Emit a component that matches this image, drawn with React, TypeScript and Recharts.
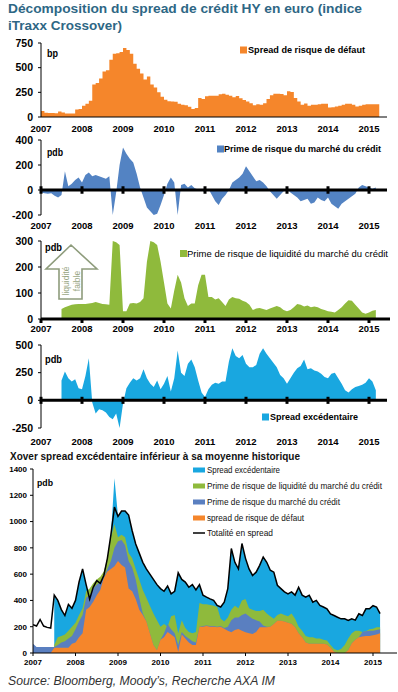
import React from "react";
import {
  AreaChart,
  Area,
  ComposedChart,
  Line,
  XAxis,
  YAxis,
  ReferenceLine,
} from "recharts";

const FONT = "'Liberation Sans', Arial, Helvetica, sans-serif";

const ORANGE = "#f5862b";
const BLUE = "#5383c3";
const GREEN = "#8fba3c";
const CYAN = "#19a7e0";
const TITLE = "#2e6785";

// axe du temps : un point par mois, janv. 2007 -> mars 2015
const months = Array.from({ length: 99 }, (_, i) => 2007 + i / 12);
const years = [2007, 2008, 2009, 2010, 2011, 2012, 2013, 2014, 2015];

// 1) spread de risque de défaut (bp)
const defaultSpread = [
  60, 42, 40, 40, 38, 55, 45, 35, 35, 35, 75, 80,
  115, 135, 165, 330, 345, 390, 460, 475, 580, 640, 645, 660,
  700, 680, 640, 540, 490, 440, 380, 410, 330, 300, 250, 205,
  175, 160, 158, 155, 135, 125, 120, 105, 82, 90, 192, 182,
  210, 215, 215, 215, 230, 236, 226, 215, 200, 212, 190, 172,
  158, 140, 118, 130, 125, 140, 182, 220, 236, 235, 233, 220,
  262, 253, 192, 158, 123, 137, 113, 123, 125, 130, 134, 135,
  96, 100, 106, 115, 123, 134, 134, 123, 106, 115, 123, 130,
  130, 130, 130,
];

// 2) prime de risque du marché du crédit (pdb)
const marketPremium = [
  -20, -25, -30, -25, -45, -60, -40, 150, 30, 50, 80, 100,
  60, 120, 140, 110, 120, 110, 100, 90, 110, -200, -20, 200,
  340, 290, 250, 220, 130, 20, -60, -140, -170, -200, -190, -120,
  -40, 50, 100, 60, -200, 40, 50, 20, 40, 15, 5, 0,
  -20, 10, -40, -90, -120, -70, -40, 0, 60, 80, 100, 130,
  190, 150, 110, 70, 80, 60, 30, -10, -40, -70, -40, -10,
  10, -20, -40, -60, -90, -80, -70, -110, -100, -60, -80, -90,
  -60, -110, -130, -150, -110, -90, -70, -50, -30, 20, 40, 30,
  20, 10, 20,
];

// 3) prime de risque de liquidité (pdb)
const liquidityPremium = [
  null, null, null, null, null, null, 38, 45, 50, 55, 57, 58,
  58, 58, 60, 62, 65, 62, 58, 57, 55, 300, 295, 285,
  30, 30, 60, 62, 60, 65, 80, 220, 300, 295, 285, 220,
  140, 60, 40, 110, 170, 140, 80, 50, 60, 60, 130, 170,
  170, 85, 85, 75, 80, 65, 50, 75, 85, 80, 78, 70,
  65, 55, 35, 40, 42, 38, 35, 40, 45, 50, 45, 35,
  30, 35, 45, 58, 55, 48, 52, 45, 48, 45, 38, 35,
  30, 28, 25, 35, 45, 60, 72, 70, 55, 40, 25, 20,
  25, 32, 35,
];

// 4) spread excédentaire (pdb)
const excessSpread = [
  null, null, null, null, null, null, 180, 260, 200, 170, 190, 110,
  100, 220, 380, -20, -120, -80, -90, -110, -150, -170, -120, -250,
  -30, 110, 160, 200, 180, 200, 280, 200, 150, 120, 180, 100,
  150, 220, 80, 200, 450, 250, 220, 330, 370, 300, 180, 70,
  30, 100, 140, 160, 150, 170, 170, 350, 470, 400, 380, 410,
  330, 300, 300, 320, 420, 470, 420, 380, 340, 300, 230, 200,
  150, 200, 250, 290, 310, 370, 280, 290, 270, 260, 240, 210,
  200, 240, 250, 200, 150, 90, 70, 100, 120, 130, 140, 160,
  200, 170, 90,
];

// 5) décomposition cumulée : niveau haut de chaque couche (pdb)
const defaultTop = [
  0, 0, 0, 0, 0, 0, 40, 40, 40, 40, 40, 70,
  80, 120, 150, 330, 350, 390, 440, 480, 570, 620, 640, 660,
  700, 670, 650, 490, 470, 410, 330, 290, 240, 150, 60, 20,
  100, 120, 160, 140, 120, 10, 140, 110, 80, 60, 60, 200,
  200, 205, 200, 200, 195, 200, 185, 170, 158, 175, 183, 170,
  158, 150, 145, 160, 195, 195, 195, 200, 220, 245, 245, 240,
  230, 222, 195, 150, 120, 80, 70, 70, 70, 70, 70, 65,
  40, 10, 0, 0, 0, 20, 75, 100, 120, 125, 130, 130,
  135, 140, 150,
];
const marketTop = [
  70, 45, 45, 45, 45, 45, 45, 60, 80, 90, 110, 130,
  180, 240, 290, 420, 440, 490, 520, 540, 580, 640, 700, 800,
  850, 860, 820, 700, 650, 560, 420, 300, 240, 150, 60, 20,
  100, 150, 220, 180, 150, 60, 160, 130, 110, 90, 80, 200,
  205, 210, 205, 205, 200, 205, 190, 200, 250, 270, 270, 290,
  300, 280, 260, 250, 240, 210, 200, 200, 220, 245, 245, 240,
  230, 222, 195, 150, 120, 80, 70, 70, 70, 70, 70, 65,
  40, 10, 0, 0, 0, 20, 75, 100, 120, 160, 165, 170,
  170, 175, 180,
];
const liquidityTop = [
  null, null, null, null, null, null, 60, 120, 130, 140, 170, 200,
  230, 290, 340, 470, 490, 530, 560, 580, 620, 720, 880, 980,
  880, 900, 880, 760, 720, 640, 560, 480, 420, 360, 300, 250,
  200, 220, 200, 280, 290, 150, 250, 190, 160, 150, 160, 380,
  370, 370, 365, 360, 350, 260, 240, 270, 330, 360, 340, 400,
  410, 340, 330, 320, 320, 330, 300, 280, 260, 290, 300, 290,
  280, 300, 260, 200, 170, 130, 120, 120, 110, 110, 100, 95,
  60, 30, 20, 30, 60, 110, 150, 170, 170, 160, 165, 180,
  185, 195, 195,
];
const excessTop = [
  null, null, null, null, null, null, 440, 400, 330, 285, 370, 340,
  400, 540, 640, 520, 410, 500, 550, 530, 590, 720, 900, 1330,
  1040, 1080, 1080, 1050, 930, 830, 760, 690, 640, 600, 560, 520,
  490, 470, 510, 450, 470, 610, 560, 540, 500, 520, 480, 520,
  440, 425, 412, 400, 362, 350, 387, 490, 795, 690, 640, 833,
  720, 640, 590, 615, 667, 730, 690, 630, 615, 515, 490, 465,
  450, 465, 440, 500, 440, 425, 440, 387, 400, 362, 350, 336,
  298, 285, 272, 260, 260, 247, 260, 250, 298, 285, 336, 336,
  360, 350, 300,
];
const totalSpread = [
  215, 205, 255, 205, 195, 190, 440, 400, 330, 285, 370, 340,
  400, 540, 640, 520, 410, 500, 550, 530, 590, 720, 900, 1110,
  1040, 1080, 1080, 1050, 930, 830, 760, 690, 640, 600, 560, 520,
  490, 470, 510, 450, 470, 610, 560, 540, 500, 520, 480, 520,
  440, 425, 412, 400, 362, 350, 387, 490, 795, 690, 640, 833,
  720, 640, 590, 615, 667, 730, 690, 630, 615, 515, 490, 465,
  450, 465, 440, 500, 440, 425, 440, 387, 400, 362, 350, 336,
  298, 285, 272, 260, 260, 247, 260, 250, 298, 285, 336, 336,
  360, 350, 300,
];

// tables pour recharts
const defaultData = [
  ...months.map((t, i) => ({ t, v: defaultSpread[i] })),
  { t: 2007 + 99 / 12, v: defaultSpread[98] },
];
const marketData = months.map((t, i) => ({ t, v: marketPremium[i] }));
const liquidityData = months.map((t, i) => ({ t, v: liquidityPremium[i] }));
const excessData = months.map((t, i) => ({ t, v: excessSpread[i] }));
const stackData = months.map((t, i) => ({
  t,
  excess: excessTop[i],
  liquidity: liquidityTop[i],
  market: marketTop[i],
  def: defaultTop[i],
  total: totalSpread[i],
}));

const xTick = { fontSize: 9.5, fontWeight: 700, fill: "#000", fontFamily: FONT };
const yTick = { fontSize: 10.5, fontWeight: 700, fill: "#000", fontFamily: FONT };

type PanelProps = {
  top: number;
  plotHeight: number;
  data: { t: number; v: number | null }[];
  color: string;
  domain: [number, number];
  ticks: number[];
  step?: boolean;
  zeroMark?: number; // demi-hauteur des graduations sur la ligne du zéro
  thickAxis?: boolean;
  labelGap: [number, number];
  right?: number;
};

function SeriesPanel(p: PanelProps) {
  return (
    <div style={{ position: "absolute", left: 0, top: p.top }}>
      <AreaChart
        width={398}
        height={p.plotHeight + 25}
        data={p.data}
        margin={{ top: 5, right: p.right ?? 11, left: 0, bottom: 0 }}>
        <XAxis
          type="number"
          dataKey="t"
          domain={[2007, 2007 + (398 - (p.right ?? 11) - 41) / 41]}
          ticks={years}
          interval={0}
          allowDataOverflow
          height={20}
          tick={xTick}
          tickSize={p.labelGap[0]}
          tickMargin={p.labelGap[1]}
          axisLine={
            p.thickAxis
              ? { stroke: "#000", strokeWidth: 3 }
              : p.zeroMark
              ? false
              : { stroke: "#000" }
          }
          tickLine={p.thickAxis ? { stroke: "#000", strokeWidth: 3 } : false}
        />
        <YAxis
          type="number"
          domain={p.domain}
          ticks={p.ticks}
          interval={0}
          allowDataOverflow
          width={41}
          tick={yTick}
          tickSize={3}
          tickMargin={5}
          axisLine={{ stroke: "#000" }}
          tickLine={{ stroke: "#000" }}
        />
        <Area
          dataKey="v"
          type={p.step ? "stepAfter" : "linear"}
          stroke="none"
          fill={p.color}
          fillOpacity={1}
          baseValue={0}
          dot={false}
          activeDot={false}
          isAnimationActive={false}
        />
        {p.zeroMark ? (
          <ReferenceLine y={0} stroke="#000" strokeWidth={3} />
        ) : null}
        {p.zeroMark
          ? years.map((yr) => (
              <ReferenceLine
                key={yr}
                segment={[
                  { x: yr, y: -p.zeroMark! },
                  { x: yr, y: p.zeroMark! },
                ]}
                stroke="#000"
                strokeWidth={3}
              />
            ))
          : null}
      </AreaChart>
    </div>
  );
}

function StackPanel() {
  const tick = { fontSize: 8, fontWeight: 700, fill: "#000", fontFamily: FONT };
  return (
    <div style={{ position: "absolute", left: 0, top: 464 }}>
      <ComposedChart
        width={398}
        height={207}
        data={stackData}
        margin={{ top: 5, right: 1, left: 0, bottom: 0 }}>
        <XAxis
          type="number"
          dataKey="t"
          domain={[2007, 2007 + 364 / 42.5]}
          ticks={years}
          interval={0}
          allowDataOverflow
          height={18}
          tick={tick}
          tickSize={3}
          tickMargin={3}
          axisLine={{ stroke: "#000" }}
          tickLine={{ stroke: "#000" }}
        />
        <YAxis
          type="number"
          domain={[0, 1400]}
          ticks={[0, 200, 400, 600, 800, 1000, 1200, 1400]}
          interval={0}
          width={33}
          tick={tick}
          tickSize={3}
          tickMargin={3}
          axisLine={{ stroke: "#000" }}
          tickLine={{ stroke: "#000" }}
        />
        <Area dataKey="excess" type="linear" stroke="none" fill={CYAN} fillOpacity={1} isAnimationActive={false} />
        <Area dataKey="liquidity" type="linear" stroke="none" fill={GREEN} fillOpacity={1} isAnimationActive={false} />
        <Area dataKey="market" type="linear" stroke="none" fill="#5a7fc0" fillOpacity={1} isAnimationActive={false} />
        <Area dataKey="def" type="linear" stroke="none" fill={ORANGE} fillOpacity={1} isAnimationActive={false} />
        <Line dataKey="total" type="linear" stroke="#000" strokeWidth={1.5} dot={false} activeDot={false} isAnimationActive={false} />
      </ComposedChart>
    </div>
  );
}

// textes, légendes et flèche par-dessus les graphiques
function Overlay() {
  const t = (x: number, y: number, size: number, len: number, text: string, weight = 700, fill = "#000") => (
    <text x={x} y={y} fontSize={size} fontWeight={weight} fill={fill} fontFamily={FONT} textLength={len} lengthAdjust="spacingAndGlyphs">
      {text}
    </text>
  );
  const legend5 = [
    { label: "Spread excédentaire", color: CYAN, len: 73 },
    { label: "Prime de risque de liquidité du marché du crédit", color: GREEN, len: 175 },
    { label: "Prime de risque du marché du crédit", color: "#5a7fc0", len: 133 },
    { label: "spread de risque de défaut", color: ORANGE, len: 97 },
    { label: "Totalité en spread", color: "", len: 66 },
  ];
  const rows = [470, 486, 502, 518, 533];
  return (
    <svg width={398} height={692} style={{ position: "absolute", left: 0, top: 0, pointerEvents: "none" }}>
      {t(8, 13.4, 13.6, 354, "Décomposition du spread de crédit HY en euro (indice", 700, TITLE)}
      {t(8, 30.4, 13.6, 114, "iTraxx Crossover)", 700, TITLE)}

      {t(47, 56.5, 10, 11, "bp")}
      <rect x={240} y={46.5} width={7} height={7} fill={ORANGE} />
      {t(248, 53.3, 9.3, 117, "Spread de risque de défaut")}

      {t(47, 155.5, 10, 16, "pdb")}
      <rect x={217} y={145.5} width={7} height={7} fill={BLUE} />
      {t(224, 152.4, 9.1, 157, "Prime de risque du marché du crédit")}

      <polygon points="71,245 97,269 82,269 82,299 59,299 59,269 46,269" fill="#fff" stroke="#8e9c7c" strokeWidth={1.6} />
      <text x={0} y={0} transform="translate(68.5,281) rotate(-90)" textAnchor="middle" fontSize={8.5} fill="#98a683" fontFamily={FONT}>liquidité</text>
      <text x={0} y={0} transform="translate(79.5,281) rotate(-90)" textAnchor="middle" fontSize={8.5} fill="#98a683" fontFamily={FONT}>faible</text>
      {t(45, 251, 10, 17, "pdb")}
      <rect x={180} y={250} width={7} height={7} fill={GREEN} />
      {t(187, 257, 9.6, 201, "Prime de risque de liquidité du marché du crédit", 400)}

      {t(45, 363, 10, 17, "pdb")}
      <rect x={262} y={413.5} width={7} height={7} fill={CYAN} />
      {t(270, 420.3, 9.3, 88, "Spread excédentaire")}

      {t(10, 459.7, 11, 290, "Xover spread excédentaire inférieur à sa moyenne historique", 700, "#111")}
      {t(37, 485.5, 9.5, 16, "pdb")}
      {legend5.map((l, i) => (
        <g key={l.label}>
          {l.color ? (
            <rect x={193} y={rows[i] - 2.5} width={12} height={5} fill={l.color} />
          ) : (
            <line x1={193} x2={205} y1={rows[i]} y2={rows[i]} stroke="#000" strokeWidth={1.5} />
          )}
          {t(207, rows[i] + 3.1, 8.4, l.len, l.label, 400, "#111")}
        </g>
      ))}

      <text x={8} y={685} fontSize={12.5} fontStyle="italic" fill="#333" fontFamily={FONT} textLength={267} lengthAdjust="spacingAndGlyphs">
        Source: Bloomberg, Moody’s, Recherche AXA IM
      </text>
    </svg>
  );
}

export default function App() {
  return (
    <div style={{ position: "absolute", left: 0, top: 0, width: 398, height: 692, background: "#fff", fontFamily: FONT }}>
      <SeriesPanel top={38} plotHeight={74} data={defaultData} color={ORANGE} domain={[0, 750]} ticks={[0, 250, 500, 750]} step labelGap={[6, 2]} />
      <SeriesPanel top={135} plotHeight={75} data={marketData} color={BLUE} domain={[-200, 400]} ticks={[-200, 0, 200, 400]} zeroMark={30} labelGap={[6, 1]} />
      <SeriesPanel top={236} plotHeight={78} data={liquidityData} color={GREEN} domain={[0, 300]} ticks={[0, 100, 200, 300]} thickAxis labelGap={[4, 2]} right={8} />
      <SeriesPanel top={340} plotHeight={83} data={excessData} color={CYAN} domain={[-250, 500]} ticks={[-250, 0, 250, 500]} zeroMark={32} labelGap={[6, 4]} />
      <StackPanel />
      <Overlay />
    </div>
  );
}
